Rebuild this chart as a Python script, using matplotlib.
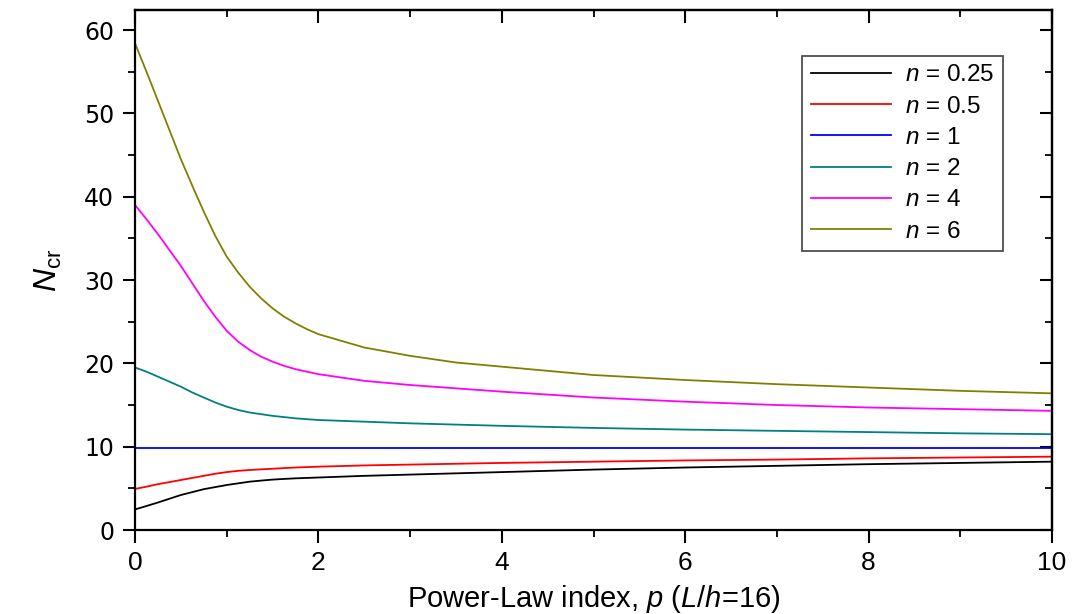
import matplotlib
matplotlib.use("Agg")
import matplotlib.pyplot as plt
from matplotlib.ticker import MultipleLocator

plt.rcParams['font.family'] = ['Liberation Sans', 'DejaVu Sans']
plt.rcParams['mathtext.fontset'] = 'custom'
plt.rcParams['mathtext.it'] = 'Liberation Sans:italic'
plt.rcParams['mathtext.rm'] = 'Liberation Sans'

p = [0, 0.125, 0.25, 0.375, 0.5, 0.625, 0.75, 0.875, 1.0, 1.125, 1.25, 1.375, 1.5, 1.625,
     1.75, 1.875, 2.0, 2.5, 3.0, 3.5, 4, 5, 6, 7, 8, 9, 10]

n025 = [2.47, 2.88, 3.3, 3.75, 4.2, 4.55, 4.9, 5.15, 5.4, 5.6, 5.8, 5.93, 6.05, 6.13,
        6.2, 6.25, 6.3, 6.5, 6.65, 6.8, 6.95, 7.25, 7.5, 7.7, 7.9, 8.05, 8.2]
n05 = [4.93, 5.2, 5.5, 5.75, 6.0, 6.25, 6.5, 6.75, 6.95, 7.1, 7.2, 7.28, 7.35, 7.43,
       7.5, 7.55, 7.6, 7.75, 7.85, 7.95, 8.05, 8.2, 8.35, 8.45, 8.6, 8.7, 8.8]
n1 = [9.87] * len(p)
n2 = [19.5, 19.0, 18.4, 17.8, 17.2, 16.5, 15.9, 15.3, 14.8, 14.4, 14.1, 13.9, 13.7, 13.55,
      13.4, 13.3, 13.2, 13.0, 12.8, 12.65, 12.5, 12.25, 12.05, 11.9, 11.75, 11.6, 11.5]
n4 = [39.0, 37.3, 35.5, 33.6, 31.7, 29.6, 27.5, 25.6, 23.9, 22.6, 21.6, 20.8, 20.2, 19.7,
      19.3, 19.0, 18.7, 17.9, 17.4, 17.0, 16.6, 15.9, 15.4, 15.0, 14.7, 14.5, 14.3]
n6 = [58.4, 55.0, 51.5, 48.0, 44.5, 41.3, 38.2, 35.3, 32.8, 30.9, 29.2, 27.8, 26.6, 25.6,
      24.8, 24.1, 23.5, 21.9, 20.9, 20.1, 19.6, 18.6, 18.0, 17.5, 17.1, 16.7, 16.4]

series = [n025, n05, n1, n2, n4, n6]
labels = ['0.25', '0.5', '1', '2', '4', '6']
colors = ['#000000', '#ff0000', '#0000ff', '#008080', '#ff00ff', '#808000']

fig = plt.figure(figsize=(10.75, 6.14), dpi=100)
ax = fig.add_axes([0.1256, 0.1368, 0.8530, 0.8469])

for ys, lab, c in zip(series, labels, colors):
    ax.plot(p, ys, color=c, lw=1.3, label=r'$n$ = ' + lab)

ax.set_xlim(0, 10)
ax.set_ylim(0, 62.4)
ax.xaxis.set_major_locator(MultipleLocator(2))
ax.xaxis.set_minor_locator(MultipleLocator(1))
ax.yaxis.set_major_locator(MultipleLocator(10))
ax.yaxis.set_minor_locator(MultipleLocator(5))

for s in ax.spines.values():
    s.set_linewidth(1.6)

ax.tick_params(which='major', direction='out', length=9, width=1.5, labelsize=19, pad=6)
ax.tick_params(which='minor', direction='out', length=5, width=1.3)
for t in ax.get_yticklabels():
    t.set_fontfamily('DejaVu Sans')
    t.set_fontsize(17)

top = ax.secondary_xaxis('top')
top.xaxis.set_major_locator(MultipleLocator(2))
top.xaxis.set_minor_locator(MultipleLocator(1))
top.tick_params(which='major', direction='in', length=9, width=1.5, labeltop=False)
top.tick_params(which='minor', direction='in', length=5, width=1.3)
right = ax.secondary_yaxis('right')
right.yaxis.set_major_locator(MultipleLocator(10))
right.yaxis.set_minor_locator(MultipleLocator(5))
right.tick_params(which='major', direction='in', length=9, width=1.5, labelright=False)
right.tick_params(which='minor', direction='in', length=5, width=1.3)
for s in list(top.spines.values()) + list(right.spines.values()):
    s.set_linewidth(1.6)

ax.set_xlabel(r'Power-Law index, $p$ ($L$/$h$=16)', fontsize=21, labelpad=6)
ax.set_ylabel(r'$N_{\mathrm{cr}}$', fontsize=23, labelpad=14)

leg = ax.legend(loc='upper right', bbox_to_anchor=(0.96, 0.935), fontsize=17.5,
                frameon=True, fancybox=False, edgecolor='#222222', handlelength=3.3,
                handletextpad=0.6, borderpad=0.35, labelspacing=0.38)
leg.get_frame().set_linewidth(1.3)

fig.savefig('out.png', dpi=100)
